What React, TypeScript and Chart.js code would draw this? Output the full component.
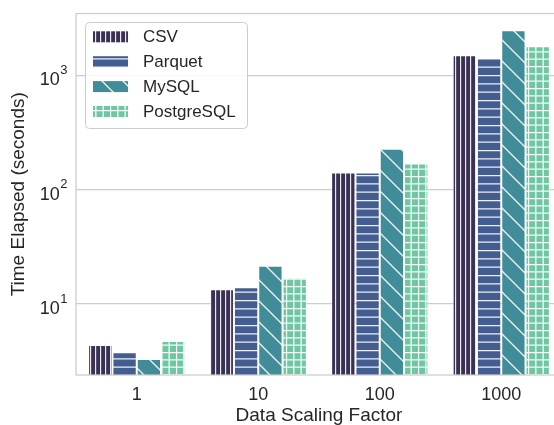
import React, { useEffect, useRef } from 'react';
import { Chart, registerables } from 'chart.js';

Chart.register(...registerables);

// Query time per storage backend, by data scaling factor
const categories = ['1', '10', '100', '1000'];
const seriesNames = ['CSV', 'Parquet', 'MySQL', 'PostgreSQL'];
const csvSeconds = [4.39, 13.5, 141, 1496];
const parquetSeconds = [3.79, 14.0, 141, 1416];
const mysqlSeconds = [3.31, 21.6, 228, 2472];
const postgresSeconds = [4.75, 17.0, 169, 1792];
const decadeTicks = [10, 100, 1000];
const decadeExponents = ['1', '2', '3'];
const yMin = 2.4;
const yMax = 3460;

const seriesValues = [csvSeconds, parquetSeconds, mysqlSeconds, postgresSeconds];

type Hatch = 'vertical' | 'horizontal' | 'diagonal' | 'grid';
const seriesStyles: { color: string; hatch: Hatch }[] = [
  { color: '#3a3154', hatch: 'vertical' },
  { color: '#435d91', hatch: 'horizontal' },
  { color: '#408c99', hatch: 'diagonal' },
  { color: '#6ec6a2', hatch: 'grid' },
];

const TEXT = '#262626';
const LINE = '#cccccc';
const FONT = '"Liberation Sans", Arial, sans-serif';

function hatchPattern(ctx: CanvasRenderingContext2D, color: string, hatch: Hatch) {
  const size =
    hatch === 'vertical' ? 5 : hatch === 'horizontal' ? 25 : hatch === 'diagonal' ? 21 : 22;
  const tile = document.createElement('canvas');
  tile.width = size;
  tile.height = size;
  const t = tile.getContext('2d')!;
  t.fillStyle = color;
  t.fillRect(0, 0, size, size);
  t.strokeStyle = 'rgba(255,255,255,0.9)';
  t.lineWidth = 1.35;
  t.beginPath();
  if (hatch === 'vertical') {
    t.moveTo(0.5, 0);
    t.lineTo(0.5, size);
  } else if (hatch === 'horizontal') {
    for (let k = 0; k < 3; k++) {
      const y = 0.5 + (k * size) / 3;
      t.moveTo(0, y);
      t.lineTo(size, y);
    }
  } else if (hatch === 'diagonal') {
    for (const off of [-size, 0, size]) {
      t.moveTo(-1, -1 + off);
      t.lineTo(size + 1, size + 1 + off);
    }
  } else {
    for (let k = 0; k < 3; k++) {
      const p = 0.5 + (k * size) / 3;
      t.moveTo(p, 0);
      t.lineTo(p, size);
      t.moveTo(0, p);
      t.lineTo(size, p);
    }
  }
  t.stroke();
  return ctx.createPattern(tile, 'repeat')!;
}

// Light frame around the plotting area, drawn over the bars
const framePlugin = {
  id: 'frame',
  afterDatasetsDraw(chart: any) {
    const { ctx, chartArea: a } = chart;
    ctx.save();
    ctx.strokeStyle = LINE;
    ctx.lineWidth = 1.25;
    ctx.strokeRect(a.left, a.top, a.right - a.left, a.bottom - a.top);
    ctx.restore();
  },
};

// Power-of-ten labels with raised exponents
const decadeLabelPlugin = {
  id: 'decadeLabels',
  afterDraw(chart: any) {
    const { ctx } = chart;
    const y = chart.scales.y;
    const right = y.right - 8.5;
    ctx.save();
    ctx.fillStyle = TEXT;
    ctx.textBaseline = 'alphabetic';
    decadeTicks.forEach((v, i) => {
      const py = y.getPixelForValue(v);
      ctx.font = `13px ${FONT}`;
      ctx.textAlign = 'right';
      const expW = ctx.measureText(decadeExponents[i]).width;
      ctx.fillText(decadeExponents[i], right, py - 1.5);
      ctx.font = `18px ${FONT}`;
      ctx.fillText('10', right - expW - 0.5, py + 10);
    });
    ctx.restore();
  },
};

let fills: CanvasPattern[] = [];

const legendPlugin = {
  id: 'hatchLegend',
  afterDraw(chart: any) {
    const { ctx } = chart;
    const x = 85.5;
    const y = 22.5;
    const w = 162;
    const h = 106;
    ctx.save();
    ctx.beginPath();
    ctx.roundRect(x, y, w, h, 4);
    ctx.fillStyle = 'rgba(255,255,255,0.85)';
    ctx.fill();
    ctx.strokeStyle = LINE;
    ctx.lineWidth = 1;
    ctx.stroke();
    seriesNames.forEach((name, i) => {
      const cy = 36.8 + i * 24.9;
      ctx.fillStyle = fills[i];
      ctx.fillRect(93, cy - 5.5, 35, 11);
      ctx.fillStyle = TEXT;
      ctx.font = `17px ${FONT}`;
      ctx.textAlign = 'left';
      ctx.textBaseline = 'middle';
      ctx.fillText(name, 143, cy + 0.5);
    });
    ctx.restore();
  },
};

export default function App() {
  const ref = useRef<HTMLCanvasElement>(null);

  useEffect(() => {
    const canvas = ref.current!;
    const ctx = canvas.getContext('2d')!;
    fills = seriesStyles.map((s) => hatchPattern(ctx, s.color, s.hatch));

    const chart = new Chart(canvas, {
      type: 'bar',
      data: {
        labels: categories,
        datasets: seriesNames.map((name, i) => ({
          label: name,
          data: seriesValues[i],
          backgroundColor: fills[i],
          borderColor: 'rgba(255,255,255,0.55)',
          borderWidth: 1,
          categoryPercentage: 0.8,
          barPercentage: 1,
        })),
      },
      options: {
        responsive: false,
        animation: false,
        devicePixelRatio: 1,
        layout: { padding: { top: 13.5, right: 8, left: 0, bottom: 0 } },
        plugins: { legend: { display: false }, tooltip: { enabled: false } },
        scales: {
          x: {
            grid: { display: false, drawTicks: false },
            border: { display: false },
            ticks: { color: TEXT, font: { family: FONT, size: 18 }, padding: 9.5 },
            title: {
              display: true,
              text: 'Data Scaling Factor',
              color: TEXT,
              font: { family: FONT, size: 19 },
              padding: { top: 0, bottom: 3 },
            },
            afterFit: (s: any) => {
              s.height = 55;
            },
          },
          y: {
            type: 'logarithmic',
            min: yMin,
            max: yMax,
            afterBuildTicks: (s: any) => {
              s.ticks = decadeTicks.map((v) => ({ value: v }));
            },
            grid: { color: LINE, lineWidth: 1.2, drawTicks: false },
            border: { display: false },
            ticks: { display: false },
            title: {
              display: true,
              text: 'Time Elapsed (seconds)',
              color: TEXT,
              font: { family: FONT, size: 19 },
              padding: { top: 7.3, bottom: 0 },
            },
            afterFit: (s: any) => {
              s.width = 76;
            },
          },
        },
      },
      plugins: [framePlugin, decadeLabelPlugin, legendPlugin],
    });
    return () => chart.destroy();
  }, []);

  return (
    <div
      style={{
        position: 'fixed',
        left: 0,
        top: 0,
        width: 554,
        height: 425,
        overflow: 'hidden',
        background: '#fff',
      }}
    >
      <canvas ref={ref} width={570} height={430} style={{ display: 'block', width: 570, height: 430 }} />
    </div>
  );
}
